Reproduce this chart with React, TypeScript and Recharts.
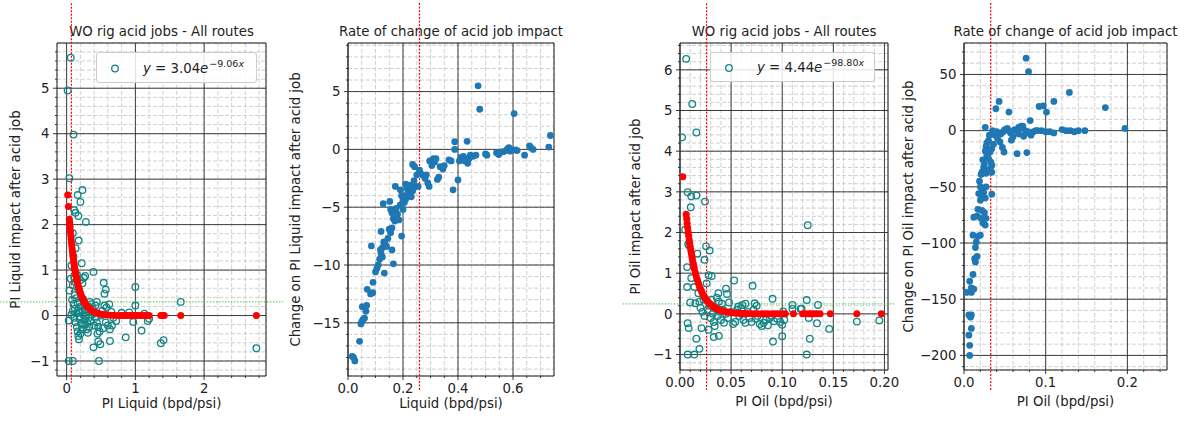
import React from 'react';
import { ScatterChart, Scatter, XAxis, YAxis, CartesianGrid, ReferenceLine, ReferenceArea, Legend } from 'recharts';

const W = 1180;
const H = 423;
const FONT = '"DejaVu Sans", sans-serif';
const FS = 13.3;
const MINUS = '\u2212';

// ---------- data ----------
const liquidImpact: [number, number][] = [
  [0.06,5.67],[0.015,4.95],[0.10,3.98],[0.04,3.02],[0.23,2.76],[0.16,2.65],[0.20,2.50],[0.11,2.32],[0.13,2.26],[0.17,2.19],
  [0.28,2.06],[0.09,1.81],[0.175,1.65],[0.13,1.48],[0.10,1.30],[0.22,1.15],[0.39,0.96],[0.27,0.87],[0.06,0.81],[0.23,0.71],
  [0.09,0.67],[0.54,0.72],[0.57,0.57],[0.55,0.48],[1.00,0.63],[1.00,0.22],[1.66,0.30],[0.04,0.55],[0.12,0.45],[0.15,0.62],
  [0.20,0.78],[0.25,0.83],[0.08,0.35],[0.10,0.25],[0.12,0.15],[0.14,0.05],[0.11,-0.05],[0.13,-0.15],[0.15,-0.25],[0.16,-0.35],
  [0.17,-0.45],[0.18,-0.52],[0.20,-0.40],[0.22,-0.30],[0.24,-0.20],[0.26,-0.10],[0.28,0.00],[0.30,0.10],[0.32,0.20],[0.34,0.30],
  [0.36,0.25],[0.38,0.15],[0.40,0.05],[0.42,-0.05],[0.44,-0.15],[0.46,-0.25],[0.48,-0.35],[0.50,0.00],[0.52,0.10],[0.55,0.22],
  [0.58,0.18],[0.62,0.25],[0.65,0.08],[0.68,-0.05],[0.72,-0.12],[0.19,0.30],[0.21,0.20],[0.23,0.10],[0.25,0.00],[0.27,-0.20],
  [0.29,-0.30],[0.31,-0.38],[0.33,-0.25],[0.35,-0.12],[0.37,0.02],[0.17,0.12],[0.19,-0.08],[0.21,-0.18],[0.09,0.10],[0.07,0.02],
  [0.14,0.38],[0.16,0.28],[0.18,0.08],[0.20,-0.02],[0.24,0.36],[0.26,0.24],[0.28,0.14],[0.30,-0.15],[0.32,-0.05],[0.40,-0.22],
  [0.42,0.22],[0.44,0.30],[0.53,-0.28],[0.57,-0.15],[0.60,-0.22],[0.63,-0.30],[0.66,-0.22],[0.45,-0.40],[0.46,-0.57],[0.49,-0.63],
  [0.39,-0.70],[0.63,-0.56],[0.86,-0.48],[1.09,-0.33],[1.37,-0.61],[1.41,-0.54],[2.76,-0.72],[0.03,-1.00],[0.09,-1.00],[0.47,-1.00],
  [0.03,-0.11],[0.91,0.07],[0.97,-0.14],[1.13,0.04],[1.20,-0.07],[1.18,-0.12],[0.80,0.06],[0.13,0.73],[0.15,0.90],[0.18,0.55],
  [0.11,0.85],[0.07,1.10],
];

const liquidFit: [number, number][] = [
  [0.015,2.65],[0.026,2.40],[0.04,2.12],[0.043,2.06],[0.045,2.02],[0.048,1.97],[0.05,1.93],[0.055,1.85],[0.06,1.77],[0.065,1.69],
  [0.07,1.61],[0.075,1.54],[0.08,1.47],[0.085,1.41],[0.09,1.35],[0.095,1.29],[0.10,1.23],[0.105,1.17],[0.11,1.12],[0.115,1.07],
  [0.12,1.03],[0.125,0.98],[0.13,0.94],[0.135,0.89],[0.14,0.86],[0.145,0.82],[0.15,0.78],[0.155,0.75],[0.16,0.71],[0.17,0.65],
  [0.18,0.60],[0.19,0.54],[0.20,0.50],[0.21,0.45],[0.22,0.41],[0.23,0.38],[0.24,0.35],[0.25,0.32],[0.26,0.29],[0.27,0.26],
  [0.28,0.24],[0.30,0.20],[0.32,0.17],[0.34,0.14],[0.36,0.12],[0.38,0.10],[0.40,0.08],[0.43,0.06],[0.46,0.05],[0.50,0.03],
  [0.53,0.025],[0.56,0.019],[0.60,0.013],[0.65,0.008],[0.70,0.005],[0.76,0.003],[0.80,0.002],[0.83,0.002],[0.86,0.001],[0.88,0.001],
  [0.92,0.001],[0.95,0],[0.98,0],[1.0,0],[1.03,0],[1.07,0],[1.10,0],[1.13,0],[1.17,0],[1.20,0],
  [1.37,0],[1.40,0],[1.42,0],[1.66,0],[2.76,0],
];

const liquidRate: [number, number][] = [
  [0.015,-17.9],[0.02,-18.0],[0.025,-18.3],[0.042,-16.6],[0.047,-15.1],[0.05,-14.9],[0.055,-14.7],[0.06,-14.6],[0.065,-14.0],[0.052,-13.6],
  [0.068,-13.5],[0.07,-12.1],[0.082,-12.5],[0.09,-12.4],[0.091,-11.5],[0.085,-8.35],[0.10,-10.6],[0.105,-10.3],[0.11,-10.0],[0.115,-9.5],
  [0.12,-9.0],[0.118,-8.7],[0.125,-8.5],[0.13,-8.0],[0.135,-8.2],[0.14,-8.4],[0.132,-10.7],[0.125,-9.3],[0.12,-7.1],[0.128,-4.7],
  [0.145,-7.7],[0.15,-6.9],[0.155,-7.2],[0.16,-6.8],[0.165,-9.9],[0.16,-8.7],[0.165,-6.0],[0.16,-5.5],[0.155,-5.2],[0.152,-4.5],
  [0.17,-5.3],[0.175,-5.1],[0.17,-6.2],[0.18,-5.6],[0.185,-6.1],[0.19,-4.8],[0.195,-7.5],[0.2,-5.2],[0.205,-4.6],[0.21,-4.3],
  [0.215,-3.9],[0.172,-3.2],[0.19,-3.5],[0.195,-4.0],[0.2,-4.4],[0.21,-3.0],[0.215,-3.4],[0.22,-3.7],[0.225,-3.1],[0.23,-4.1],
  [0.235,-3.6],[0.24,-2.7],[0.245,-3.2],[0.235,-1.3],[0.242,-1.5],[0.25,-2.2],[0.255,-3.2],[0.26,-1.8],[0.264,-2.1],[0.27,-2.2],
  [0.28,-2.5],[0.285,-2.2],[0.29,-2.9],[0.295,-3.2],[0.297,-1.0],[0.305,-1.4],[0.31,-0.8],[0.315,-1.1],[0.32,-0.8],[0.325,-2.6],
  [0.33,-2.4],[0.335,-1.5],[0.345,-1.7],[0.35,-1.4],[0.367,-0.9],[0.375,-1.0],[0.382,-3.5],[0.388,0.66],[0.388,0.0],[0.40,-2.65],
  [0.405,-1.0],[0.41,-0.7],[0.42,-0.6],[0.425,-1.0],[0.433,0.7],[0.435,-1.2],[0.44,-0.8],[0.445,-0.5],[0.455,-0.6],[0.465,-0.5],
  [0.473,5.5],[0.479,3.47],[0.5,-0.4],[0.505,-0.5],[0.54,-0.3],[0.548,-0.45],[0.555,-0.25],[0.565,-0.2],[0.575,-0.1],[0.58,0.05],
  [0.585,0.15],[0.59,-0.15],[0.595,-0.05],[0.604,3.1],[0.61,-0.05],[0.615,-0.1],[0.642,-0.5],[0.66,0.3],[0.665,0.15],[0.673,0.0],
  [0.73,0.2],[0.736,1.2],
];

const oilImpact: [number, number][] = [
  [0.006,6.27],[0.012,5.16],[0.002,4.34],[0.016,4.46],[0.0075,2.99],[0.011,2.89],[0.016,2.91],[0.0105,2.62],[0.0245,2.76],[0.005,2.07],
  [0.125,2.18],[0.008,1.71],[0.009,1.68],[0.0255,1.66],[0.029,1.56],[0.017,1.48],[0.007,1.15],[0.024,1.33],[0.011,0.88],[0.007,0.66],
  [0.014,0.66],[0.018,0.51],[0.01,0.28],[0.015,0.26],[0.028,0.95],[0.031,0.93],[0.026,0.75],[0.0376,0.51],[0.036,0.40],[0.045,0.62],
  [0.046,0.49],[0.053,0.82],[0.071,0.69],[0.0905,0.37],[0.073,0.26],[0.075,0.2],[0.064,0.25],[0.06,0.14],[0.11,0.22],[0.124,0.34],
  [0.135,0.22],[0.118,0.12],[0.101,0.06],[0.11,0.12],[0.119,0.13],[0.02,0.15],[0.022,0.05],[0.024,-0.05],[0.027,0.1],[0.029,0.2],
  [0.03,-0.1],[0.032,0.0],[0.033,-0.2],[0.035,0.12],[0.037,-0.05],[0.039,0.05],[0.04,-0.15],[0.042,0.1],[0.043,-0.22],[0.045,0.0],
  [0.047,-0.1],[0.05,0.05],[0.052,-0.25],[0.054,-0.2],[0.056,0.1],[0.058,-0.05],[0.06,0.0],[0.062,-0.15],[0.064,-0.22],[0.066,0.05],
  [0.068,-0.1],[0.07,-0.2],[0.072,0.1],[0.074,-0.12],[0.076,-0.05],[0.078,-0.25],[0.08,-0.3],[0.082,-0.22],[0.084,-0.15],[0.086,-0.28],
  [0.088,-0.1],[0.09,-0.05],[0.092,-0.18],[0.095,-0.12],[0.098,-0.2],[0.1,-0.27],[0.102,-0.15],[0.057,0.18],[0.061,0.22],[0.048,0.28],
  [0.041,0.25],[0.034,-0.3],[0.031,0.35],[0.023,0.35],[0.019,0.3],[0.038,0.3],[0.0075,-0.23],[0.0085,-0.35],[0.016,-0.61],[0.019,-0.86],
  [0.0075,-1.0],[0.014,-1.0],[0.021,-0.35],[0.028,-0.39],[0.033,-0.57],[0.038,-0.54],[0.091,-0.68],[0.1,-0.55],[0.127,-0.61],[0.124,-1.0],
  [0.146,-0.37],[0.134,-0.23],[0.126,-0.1],[0.173,-0.19],[0.195,-0.16],
];

const oilFit: [number, number][] = [
  [0.0028,3.37],[0.006,2.45],[0.0065,2.34],[0.007,2.22],[0.0075,2.12],[0.008,2.01],[0.0085,1.92],[0.009,1.82],[0.0095,1.74],[0.010,1.65],
  [0.0105,1.57],[0.011,1.50],[0.0115,1.43],[0.012,1.36],[0.0125,1.29],[0.013,1.23],[0.0135,1.17],[0.014,1.11],[0.015,1.01],[0.016,0.91],
  [0.017,0.83],[0.018,0.75],[0.019,0.68],[0.020,0.62],[0.021,0.56],[0.022,0.50],[0.023,0.46],[0.024,0.41],[0.025,0.38],[0.026,0.34],
  [0.027,0.31],[0.028,0.28],[0.029,0.25],[0.030,0.23],[0.031,0.21],[0.032,0.19],[0.033,0.17],[0.034,0.15],[0.035,0.14],[0.036,0.13],
  [0.038,0.10],[0.040,0.085],[0.042,0.07],[0.044,0.057],[0.046,0.047],[0.048,0.039],[0.050,0.032],[0.053,0.024],[0.056,0.018],[0.060,0.012],
  [0.063,0.009],[0.066,0.0065],[0.070,0.004],[0.073,0.003],[0.076,0.002],[0.080,0.002],[0.083,0.001],[0.086,0.001],[0.090,0.001],[0.093,0],
  [0.096,0],[0.100,0],[0.103,0],[0.111,0],[0.120,0],[0.123,0],[0.126,0],[0.128,0],[0.131,0],[0.134,0],
  [0.137,0],[0.147,0],[0.173,0],[0.197,0],
];

const oilRate: [number, number][] = [
  [0.076,64.5],[0.079,52.5],[0.129,34],[0.173,20.5],[0.197,2],[0.043,26],[0.039,19.5],[0.055,16.5],[0.092,21.5],[0.097,22],
  [0.101,16.5],[0.110,26],[0.081,9],[0.026,3],[0.035,0],[0.038,-2],[0.040,-1],[0.045,-3],[0.048,-1],[0.050,1],
  [0.053,2],[0.055,0],[0.057,-2],[0.060,-5.5],[0.058,-8.5],[0.062,1],[0.065,-1],[0.067,3],[0.07,4],[0.072,4],
  [0.075,0],[0.078,-1],[0.08,-2],[0.082,-4],[0.085,-1],[0.088,0],[0.09,0],[0.095,0],[0.10,-1],[0.105,-1],
  [0.11,-2],[0.12,1],[0.125,0],[0.13,0],[0.135,-1],[0.14,0],[0.148,0],[0.067,-3],[0.073,-5],[0.065,-20.5],
  [0.077,-19.5],[0.049,-19],[0.047,-15],[0.044,-10],[0.041,-7],[0.038,-4],[0.036,-12],[0.034,-16],[0.032,-19],[0.031,-4],
  [0.03,-9],[0.028,-11],[0.027,-14],[0.026,-18],[0.028,-22],[0.03,-25],[0.033,-28],[0.034,-31],[0.034,-37],[0.032,-34],
  [0.029,-36],[0.027,-38],[0.024,-33],[0.022,-37],[0.021,-39],[0.025,-30],[0.023,-26],[0.034,-56.5],[0.019,-45],[0.02,-50],
  [0.022,-52],[0.024,-55],[0.021,-58],[0.026,-60],[0.027,-50],[0.018,-56],[0.02,-62],[0.017,-70],[0.022,-71],[0.025,-73],
  [0.027,-78],[0.023,-82],[0.026,-84],[0.021,-78],[0.016,-76],[0.012,-77],[0.02,-93],[0.011,-93],[0.017,-94],[0.015,-99],
  [0.014,-104],[0.016,-112],[0.013,-114],[0.014,-117],[0.011,-128],[0.007,-134],[0.009,-140],[0.003,-144],[0.009,-144],[0.012,-141],
  [0.006,-164],[0.009,-164],[0.008,-166],[0.009,-176],[0.006,-182],[0.007,-191],[0.007,-200],
];

// tick labels (major) per panel
const p1XMajor = [0, 1, 2];
const p1YMajor = [-1, 0, 1, 2, 3, 4, 5];
const p2XMajor = [0, 0.2, 0.4, 0.6];
const p2YMajor = [-15, -10, -5, 0, 5];
const p3XMajor = [0, 0.05, 0.1, 0.15, 0.2];
const p3YMajor = [-1, 0, 1, 2, 3, 4, 5, 6];
const p4XMajor = [0, 0.1, 0.2];
const p4YMajor = [-200, -150, -100, -50, 0, 50];

// ---------- helpers ----------
const toPts = (arr: [number, number][]) => arr.map(([x, y]) => ({ x, y }));
const fmt = (d: number) => (v: number) => (v < -1e-12 ? MINUS : '') + Math.abs(v).toFixed(d);
function tickRange(a: number, b: number, step: number): number[] {
  const n = Math.round((b - a) / step);
  const out: number[] = [];
  for (let i = 0; i <= n; i++) out.push(Number((a + i * step).toFixed(6)));
  return out;
}
const isIn = (list: number[], v: number) => list.some((m) => Math.abs(m - v) < 1e-9);
const mergeTicks = (a: number[], b: number[]) => {
  const out = [...a];
  b.forEach((v) => { if (!isIn(out, v)) out.push(v); });
  return out.sort((p, q) => p - q);
};

const TEAL = '#148585';
const RED = '#ff0000';
const BLUE = '#1f77b4';

const hollow = (p: any) => <circle cx={p.cx} cy={p.cy} r={3.3} fill="none" stroke={TEAL} strokeWidth={1.3} />;
const redDot = (p: any) => <circle cx={p.cx} cy={p.cy} r={3.5} fill={RED} stroke="none" />;
const blueDot = (p: any) => <circle cx={p.cx} cy={p.cy} r={3.4} fill={BLUE} stroke="none" />;

type Series = { name: string; data: [number, number][]; shape: (p: any) => React.ReactElement; legend: boolean };
type Cfg = {
  region: [number, number];
  plot: { l: number; r: number; t: number; b: number };
  xd: [number, number];
  yd: [number, number];
  xMajor: number[];
  yMajor: number[];
  xMinor: number[];
  yMinor: number[];
  xFmt: (v: number) => string;
  yFmt: (v: number) => string;
  title: string;
  xLabel: string;
  yLabel: string;
  yLabelX: number;
  xLabelY: number;
  vline: { x: number; y1: number; y2: number };
  hline?: { y: number; x1: number; x2: number };
  legend?: { x: number; y: number; w: number; h: number; coef: string; exp: string };
  series: Series[];
};

function LegendBox({ lg }: { lg: NonNullable<Cfg['legend']> }) {
  return (
    <div
      style={{
        boxSizing: 'border-box',
        width: lg.w,
        height: lg.h,
        border: '1px solid #cccccc',
        borderRadius: 3,
        background: 'rgba(255,255,255,0.85)',
        position: 'relative',
        fontFamily: FONT,
        fontSize: FS,
        color: '#222',
        whiteSpace: 'nowrap',
      }}
    >
      <svg width={30} height={lg.h} style={{ position: 'absolute', left: 0, top: -1 }}>
        <circle cx={18} cy={lg.h / 2 + 1} r={3.3} fill="none" stroke={TEAL} strokeWidth={1.3} />
      </svg>
      <span style={{ position: 'absolute', left: 46, top: lg.h / 2 - 8, lineHeight: '16px' }}>
        <i>y</i> = {lg.coef}<i>e</i>
        <span style={{ fontSize: 9.5, position: 'relative', top: -6, marginLeft: 1 }}>
          {MINUS}{lg.exp}<i>x</i>
        </span>
      </span>
    </div>
  );
}

function Panel({ cfg }: { cfg: Cfg }) {
  const { plot } = cfg;
  const [x0, x1] = cfg.region;
  const cw = x1 - x0;
  // axis boxes are 1px thick so that Recharts draws them; the plot edges stay where wanted
  const margin = { left: plot.l - x0 - 1, right: x1 - plot.r, top: plot.t, bottom: H - plot.b - 1 };
  const xTicks = mergeTicks(cfg.xMinor, cfg.xMajor);
  const yTicks = mergeTicks(cfg.yMinor, cfg.yMajor);
  const cx = (plot.l + plot.r) / 2 - x0;
  const cy = (plot.t + plot.b) / 2;
  const ylx = cfg.yLabelX - x0;

  const XTick = (p: any) => {
    const v = p.payload.value;
    const major = isIn(cfg.xMajor, v);
    return (
      <g>
        <line x1={p.x} x2={p.x} y1={p.y} y2={p.y + (major ? 4 : 2)} stroke="#222" strokeWidth={0.9} />
        {major && (
          <text x={p.x} y={p.y + 17} textAnchor="middle" fontSize={FS} fontFamily={FONT} fill="#222">
            {cfg.xFmt(v)}
          </text>
        )}
      </g>
    );
  };
  const YTick = (p: any) => {
    const v = p.payload.value;
    const major = isIn(cfg.yMajor, v);
    return (
      <g>
        <line x1={p.x} x2={p.x - (major ? 4 : 2)} y1={p.y} y2={p.y} stroke="#222" strokeWidth={0.9} />
        {major && (
          <text x={p.x - 7.5} y={p.y} dy="0.36em" textAnchor="end" fontSize={FS} fontFamily={FONT} fill="#222">
            {cfg.yFmt(v)}
          </text>
        )}
      </g>
    );
  };

  return (
    <div style={{ position: 'absolute', left: x0, top: 0, width: cw, height: H }}>
      <ScatterChart width={cw} height={H} margin={margin}>
        <CartesianGrid stroke="#c4c4c4" strokeDasharray="4 2" strokeWidth={0.8} />
        <XAxis
          type="number"
          dataKey="x"
          domain={cfg.xd}
          allowDataOverflow
          ticks={xTicks}
          interval={0}
          height={1}
          tickSize={0}
          tickMargin={0}
          tickLine={false}
          axisLine={false}
          tick={XTick}
        />
        <YAxis
          type="number"
          dataKey="y"
          domain={cfg.yd}
          allowDataOverflow
          ticks={yTicks}
          interval={0}
          width={1}
          tickSize={0}
          tickMargin={0}
          tickLine={false}
          axisLine={false}
          tick={YTick}
        />
        {cfg.xMajor.map((v) => (
          <ReferenceLine key={'gx' + v} x={v} stroke="#2a2a2a" strokeWidth={0.9} />
        ))}
        {cfg.yMajor.map((v) => (
          <ReferenceLine key={'gy' + v} y={v} stroke="#2a2a2a" strokeWidth={0.9} />
        ))}
        {cfg.series.map((s) => (
          <Scatter
            key={s.name}
            name={s.name}
            data={toPts(s.data)}
            shape={s.shape}
            legendType={s.legend ? 'circle' : 'none'}
            isAnimationActive={false}
          />
        ))}
        <ReferenceArea x1={cfg.xd[0]} x2={cfg.xd[1]} y1={cfg.yd[0]} y2={cfg.yd[1]} fill="none" fillOpacity={0} stroke="#1a1a1a" strokeWidth={1} ifOverflow="visible" />
        <ReferenceLine
          segment={[{ x: cfg.vline.x, y: cfg.vline.y1 }, { x: cfg.vline.x, y: cfg.vline.y2 }]}
          stroke="#ff0000"
          strokeWidth={1.2}
          strokeDasharray="2 1.5"
          ifOverflow="visible"
        />
        {cfg.hline && (
          <ReferenceLine
            segment={[{ x: cfg.hline.x1, y: cfg.hline.y }, { x: cfg.hline.x2, y: cfg.hline.y }]}
            stroke="#4cc04c"
            strokeWidth={1}
            strokeDasharray="1.5 1.5"
            ifOverflow="visible"
          />
        )}
        {cfg.legend && (
          <Legend
            layout="vertical"
            align="center"
            verticalAlign="middle"
            wrapperStyle={{ left: cfg.legend.x - x0, top: cfg.legend.y, width: cfg.legend.w, height: cfg.legend.h }}
            content={() => <LegendBox lg={cfg.legend!} />}
          />
        )}
        <text x={cx} y={36} textAnchor="middle" fontSize={FS} fontFamily={FONT} fill="#222">{cfg.title}</text>
        <text x={cx} y={cfg.xLabelY} textAnchor="middle" fontSize={FS} fontFamily={FONT} fill="#222">{cfg.xLabel}</text>
        <text
          x={ylx}
          y={cy}
          dy="0.36em"
          textAnchor="middle"
          fontSize={FS}
          fontFamily={FONT}
          fill="#222"
          transform={`rotate(-90 ${ylx} ${cy})`}
        >
          {cfg.yLabel}
        </text>
      </ScatterChart>
    </div>
  );
}

const panels: Cfg[] = [
  {
    region: [0, 285],
    plot: { l: 57, r: 266, t: 43, b: 376 },
    xd: [-0.14, 2.9],
    yd: [-1.33, 5.995],
    xMajor: p1XMajor,
    yMajor: p1YMajor,
    xMinor: tickRange(0, 2.8, 0.2),
    yMinor: tickRange(-1.2, 5.8, 0.2),
    xFmt: fmt(0),
    yFmt: fmt(0),
    title: 'WO rig acid jobs - All routes',
    xLabel: 'PI Liquid (bpd/psi)',
    yLabel: 'PI Liquid impact after acid job',
    yLabelX: 15,
    xLabelY: 408,
    vline: { x: 0.07, y1: 6.87, y2: -1.48 },
    hline: { y: 0.3, x1: -0.97, x2: 3.15 },
    legend: { x: 96, y: 52, w: 161, h: 31, coef: '3.04', exp: '9.06' },
    series: [
      { name: 'y = 3.04e^-9.06x', data: liquidImpact, shape: hollow, legend: true },
      { name: 'fit-liquid', data: liquidFit, shape: redDot, legend: false },
    ],
  },
  {
    region: [285, 600],
    plot: { l: 348, r: 554, t: 43, b: 376 },
    xd: [0, 0.749],
    yd: [-19.6, 9.2],
    xMajor: p2XMajor,
    yMajor: p2YMajor,
    xMinor: tickRange(0, 0.7, 0.05),
    yMinor: tickRange(-19, 9, 1),
    xFmt: fmt(1),
    yFmt: fmt(0),
    title: 'Rate of change of acid job impact',
    xLabel: 'Liquid (bpd/psi)',
    yLabel: 'Change on PI Liquid impact after acid job',
    yLabelX: 295,
    xLabelY: 408,
    vline: { x: 0.26, y1: 12.66, y2: -20.8 },
    series: [{ name: 'rate-liquid', data: liquidRate, shape: blueDot, legend: false }],
  },
  {
    region: [600, 900],
    plot: { l: 680, r: 888, t: 43, b: 370 },
    xd: [0, 0.2035],
    yd: [-1.38, 6.66],
    xMajor: p3XMajor,
    yMajor: p3YMajor,
    xMinor: tickRange(0, 0.2, 0.01),
    yMinor: tickRange(-1.2, 6.6, 0.2),
    xFmt: fmt(2),
    yFmt: fmt(0),
    title: 'WO rig acid jobs - All routes',
    xLabel: 'PI Oil (bpd/psi)',
    yLabel: 'PI Oil impact after acid job',
    yLabelX: 635,
    xLabelY: 406,
    vline: { x: 0.026, y1: 7.64, y2: -1.87 },
    hline: { y: 0.245, x1: -0.056, x2: 0.211 },
    legend: { x: 710, y: 52, w: 165, h: 30, coef: '4.44', exp: '98.80' },
    series: [
      { name: 'y = 4.44e^-98.80x', data: oilImpact, shape: hollow, legend: true },
      { name: 'fit-oil', data: oilFit, shape: redDot, legend: false },
    ],
  },
  {
    region: [900, 1180],
    plot: { l: 964, r: 1167, t: 43, b: 370 },
    xd: [0, 0.2485],
    yd: [-213, 78],
    xMajor: p4XMajor,
    yMajor: p4YMajor,
    xMinor: tickRange(0, 0.24, 0.02),
    yMinor: tickRange(-210, 70, 10),
    xFmt: fmt(1),
    yFmt: fmt(0),
    title: 'Rate of change of acid job impact',
    xLabel: 'PI Oil (bpd/psi)',
    yLabel: 'Change on PI Oil impact after acid job',
    yLabelX: 908,
    xLabelY: 406,
    vline: { x: 0.0327, y1: 113.6, y2: -230.8 },
    series: [{ name: 'rate-oil', data: oilRate, shape: blueDot, legend: false }],
  },
];

export default function App() {
  return (
    <div style={{ position: 'absolute', left: 0, top: 0, width: W, height: H, background: '#fff', fontFamily: FONT, overflow: 'hidden' }}>
      {panels.map((cfg, i) => (
        <Panel key={i} cfg={cfg} />
      ))}
    </div>
  );
}
